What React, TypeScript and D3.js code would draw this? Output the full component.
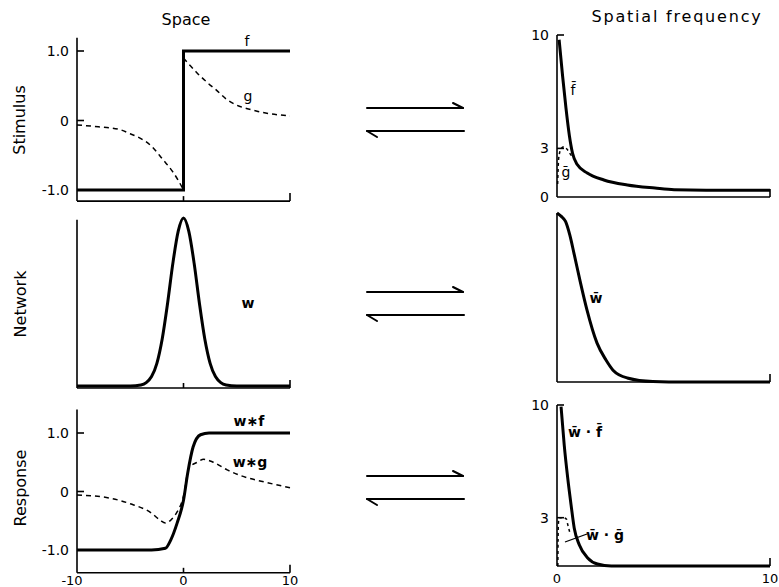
import React from 'react';
import * as d3 from 'd3';

// ---- data ----
const spaceTicks = [-10, 0, 10];
const freqTicks = [0, 10];
const stimTickVals = [1, 0, -1];
const stimTickLabels = ['1.0', '0', '-1.0'];
const freqTickVals = [10, 3, 0];
const freqTickLabels = ['10', '3', '0'];

// stimulus f (step) and g
const fX = [-10, 0, 0, 10];
const fY = [-1, -1, 1, 1];
const gLeftX = [-10, -8, -6, -5, -4, -3, -2, -1, -0.5, 0];
const gLeftY = [-0.065, -0.09, -0.13, -0.19, -0.26, -0.37, -0.55, -0.74, -0.86, -1.0];
const gRightX = [0, 0.5, 1, 1.5, 2, 2.5, 3, 4, 5, 6, 7, 8, 9, 10];
const gRightY = [0.9, 0.81, 0.73, 0.65, 0.58, 0.51, 0.45, 0.31, 0.22, 0.17, 0.13, 0.1, 0.08, 0.065];

// network w
const wX = [-10, -5, -4, -3.5, -3, -2.5, -2, -1.5, -1, -0.5, 0, 0.5, 1, 1.5, 2, 2.5, 3, 3.5, 4, 5, 10];
const wY = [0, 0, 0.006, 0.02, 0.056, 0.135, 0.28, 0.49, 0.73, 0.92, 1, 0.92, 0.73, 0.49, 0.28, 0.135, 0.056, 0.02, 0.006, 0, 0];

// responses
const wfX = [-10, -3, -1.7, -1.2, -0.6, 0, 0.4, 0.9, 1.6, 2.4, 10];
const wfY = [-1, -1, -0.97, -0.83, -0.54, -0.15, 0.32, 0.76, 0.97, 1, 1];
const wgX = [-10, -7, -5, -3, -2.2, -1.7, -1, -0.6, 0, 0.5, 1.3, 1.9, 2.8, 4.1, 5.4, 7.9, 10];
const wgY = [-0.06, -0.11, -0.21, -0.37, -0.49, -0.54, -0.45, -0.35, -0.08, 0.4, 0.5, 0.55, 0.5, 0.37, 0.27, 0.15, 0.065];

// spatial frequency side
const fbX = [0.1, 0.26, 0.42, 0.58, 0.73, 0.95, 1.42, 2.2, 3.3, 4.6, 5.5, 7, 8.5, 10];
const fbY = [9.7, 7.5, 5.5, 3.8, 2.7, 2.0, 1.48, 1.05, 0.74, 0.55, 0.45, 0.42, 0.42, 0.42];
const gbX = [0.03, 0.08, 0.2, 0.33, 0.5, 0.65, 0.8];
const gbY = [0.8, 2.4, 3.0, 3.1, 2.9, 2.6, 2.4];
const wbX = [0, 0.2, 0.4, 0.6, 0.8, 1.08, 1.4, 1.88, 2.3, 2.63, 3.3, 4.5, 6, 8, 10];
const wbY = [1, 0.98, 0.95, 0.87, 0.76, 0.6, 0.43, 0.23, 0.13, 0.07, 0.024, 0.003, 0, 0, 0];
const wfbX = [0.19, 0.34, 0.5, 0.66, 0.81, 1.05, 1.44, 1.9, 2.55, 4, 10];
const wfbY = [9.9, 7.5, 5.5, 3.8, 2.35, 1.3, 0.5, 0.12, 0, 0, 0];
const wgbX = [0.04, 0.06, 0.1, 0.3, 0.45, 0.5, 0.6];
const wgbY = [0, 2.5, 3.0, 3.0, 2.9, 2.6, 2.1];

const W = 779;
const H = 587;
const FONT = '"DejaVu Sans", "Liberation Sans", sans-serif';

const xL = d3.scaleLinear().domain([-10, 10]).range([77, 290]);
const xR = d3.scaleLinear().domain([0, 10]).range([557, 770]);

const yStim = d3.scaleLinear().domain([-1, 1]).range([190, 51]);
const yNet = d3.scaleLinear().domain([0, 1]).range([386, 218]);
const yResp = d3.scaleLinear().domain([-1, 1]).range([550, 433]);
const yStimF = d3.scaleLinear().domain([0, 10]).range([197, 35]);
const yNetF = d3.scaleLinear().domain([0, 1]).range([382, 213]);
const yRespF = d3.scaleLinear().domain([0, 10]).range([566, 405]);

type Pt = [number, number];
const path = (xs: number[], ys: number[], sx: any, sy: any, curve: any = d3.curveMonotoneX) =>
  d3.line<Pt>().x(d => sx(d[0])).y(d => sy(d[1])).curve(curve)(d3.zip(xs, ys) as Pt[]) || '';

const Axes = ({ sx, sy, x0, x1, y0, y1, innerX = [] as number[], yTicks = [] as number[], yLabels = [] as string[] }: any) => {
  const left = sx(x0);
  const right = sx(x1);
  const bottom = sy(y0);
  return (
    <g stroke="#000" strokeWidth={1.6} fill="none">
      <line x1={left} y1={sy(y1)} x2={left} y2={bottom} />
      <line x1={left} y1={bottom} x2={right} y2={bottom} />
      <line x1={right} y1={bottom} x2={right} y2={bottom - 8} />
      {innerX.map((v: number) => (
        <line key={v} x1={sx(v)} y1={bottom} x2={sx(v)} y2={bottom - 5} />
      ))}
      {yTicks.map((v: number, i: number) => (
        <g key={i}>
          {v !== y0 && <line x1={left} y1={sy(v)} x2={left + 7} y2={sy(v)} />}
          {yLabels[i] && (
            <text x={left - 8} y={sy(v)} stroke="none" fill="#000" fontSize={14} fontFamily={FONT}
              textAnchor="end" dominantBaseline="central">{yLabels[i]}</text>
          )}
        </g>
      ))}
    </g>
  );
};

const ArrowPair = ({ y }: { y: number }) => (
  <g stroke="#000" strokeWidth={2} fill="none" strokeLinecap="round">
    <line x1={367} y1={y} x2={463} y2={y} />
    <line x1={463} y1={y} x2={453} y2={y - 5} />
    <line x1={367} y1={y + 23} x2={464} y2={y + 23} />
    <line x1={367} y1={y + 23} x2={377} y2={y + 29} />
  </g>
);

const Label = ({ x, y, children, size = 14, weight = 'normal', anchor = 'middle' }: any) => (
  <text x={x} y={y} fontSize={size} fontWeight={weight} fontFamily={FONT} textAnchor={anchor}
    dominantBaseline="central" fill="#000">{children}</text>
);

const Ylabel = ({ x, y, children }: any) => (
  <text transform={`translate(${x},${y}) rotate(-90)`} fontSize={16} fontFamily={FONT}
    textAnchor="middle" dominantBaseline="central" fill="#000">{children}</text>
);

export default function App() {
  const solid = { stroke: '#000', strokeWidth: 3, fill: 'none', strokeLinejoin: 'round' as const };
  const dashed = { stroke: '#000', strokeWidth: 1.5, fill: 'none', strokeDasharray: '5,4' };
  return (
    <svg width={W} height={H} style={{ position: 'absolute', left: 0, top: 0, background: '#fff' }}>
      <rect width={W} height={H} fill="#fff" />
      <Label x={186} y={19} size={16}>Space</Label>
      <text x={677} y={16} fontSize={16} fontFamily={FONT} textAnchor="middle" dominantBaseline="central"
        letterSpacing={1.8}>Spatial frequency</text>

      <Ylabel x={19} y={120}>Stimulus</Ylabel>
      <Ylabel x={20} y={304}>Network</Ylabel>
      <Ylabel x={20} y={488}>Response</Ylabel>

      {/* Space: stimulus */}
      <Axes sx={xL} sy={yStim} x0={-10} x1={10} y0={-1.16} y1={1.19} innerX={[0]}
        yTicks={stimTickVals} yLabels={stimTickLabels} />
      <path d={path(gLeftX, gLeftY, xL, yStim)} {...dashed} />
      <path d={path(gRightX, gRightY, xL, yStim)} {...dashed} />
      <path d={path(fX, fY, xL, yStim, d3.curveLinear)} {...solid} strokeLinejoin="miter" />
      <Label x={247} y={41}>f</Label>
      <Label x={248} y={96}>g</Label>

      {/* Space: network */}
      <Axes sx={xL} sy={yNet} x0={-10} x1={10} y0={-0.012} y1={0.99} innerX={[0]} />
      <path d={path(wX, wY, xL, yNet)} {...solid} />
      <Label x={248} y={303} weight="bold">w</Label>

      {/* Space: response */}
      <Axes sx={xL} sy={yResp} x0={-10} x1={10} y0={-1.39} y1={1.4} innerX={[0]}
        yTicks={stimTickVals} yLabels={stimTickLabels} />
      <path d={path(wgX, wgY, xL, yResp)} {...dashed} />
      <path d={path(wfX, wfY, xL, yResp)} {...solid} />
      <Label x={249} y={421} weight="bold">w∗f</Label>
      <Label x={250} y={462} weight="bold">w∗g</Label>
      {spaceTicks.map(v => (
        <Label key={v} x={xL(v) + (v < 0 ? -5 : 0)} y={580} size={13}>{String(v)}</Label>
      ))}

      <ArrowPair y={108} />
      <ArrowPair y={292} />
      <ArrowPair y={476} />

      {/* Frequency: stimulus */}
      <Axes sx={xR} sy={yStimF} x0={0} x1={10} y0={0} y1={10}
        yTicks={freqTickVals} yLabels={freqTickLabels} />
      <path d={path(gbX, gbY, xR, yStimF)} {...dashed} strokeDasharray="3,3" />
      <path d={path(fbX, fbY, xR, yStimF)} {...solid} />
      <Label x={573} y={90}>f̄</Label>
      <Label x={566} y={172}>ḡ</Label>

      {/* Frequency: network */}
      <Axes sx={xR} sy={yNetF} x0={0} x1={10} y0={0} y1={1} />
      <path d={path(wbX, wbY, xR, yNetF)} {...solid} />
      <Label x={596} y={298} weight="bold">w̄</Label>

      {/* Frequency: response */}
      <Axes sx={xR} sy={yRespF} x0={0} x1={10} y0={0} y1={10}
        yTicks={freqTickVals} yLabels={freqTickLabels.map((l, i) => (i < 2 ? l : ''))} />
      <path d={path(wgbX, wgbY, xR, yRespF)} {...dashed} strokeDasharray="3,3" />
      <path d={path(wfbX, wfbY, xR, yRespF)} {...solid} />
      <Label x={585} y={432} weight="bold">w̄ · f̄</Label>
      <line x1={565} y1={542} x2={587} y2={534} stroke="#000" strokeWidth={1.3} />
      <Label x={605} y={535} weight="bold">w̄ · ḡ</Label>
      {freqTicks.map(v => (
        <Label key={v} x={xR(v)} y={578} size={13}>{String(v)}</Label>
      ))}
    </svg>
  );
}
